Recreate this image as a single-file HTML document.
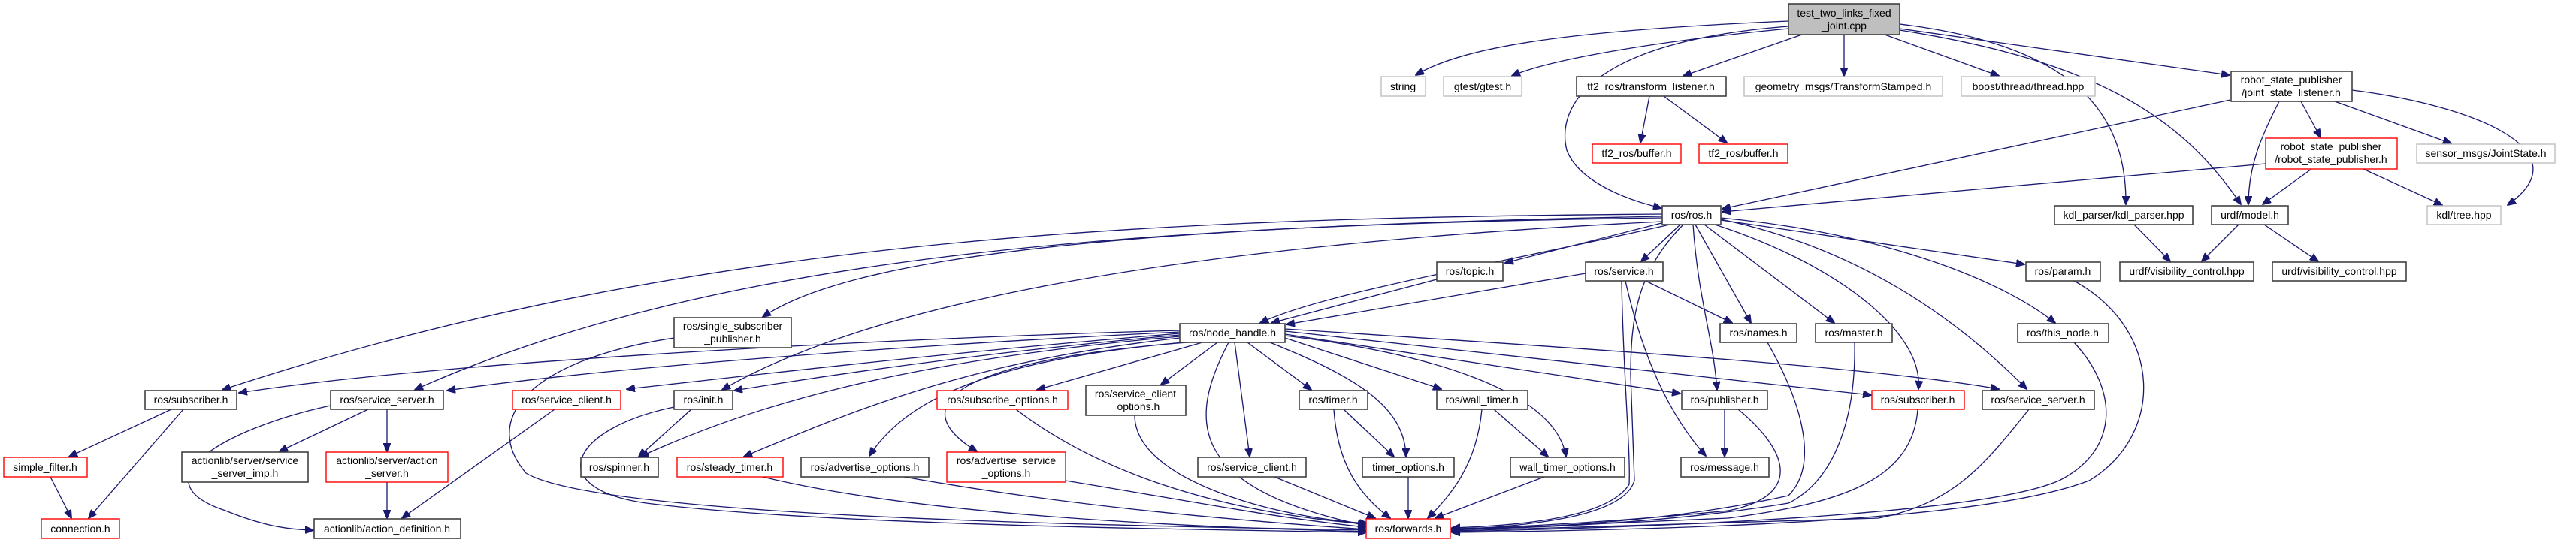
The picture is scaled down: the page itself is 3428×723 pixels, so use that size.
<!DOCTYPE html>
<html><head><meta charset="utf-8"><style>
html,body{margin:0;padding:0;background:#fff;}
svg{display:block;}
text{font-family:"Liberation Sans",sans-serif;font-size:14px;fill:#000;text-anchor:middle;}
.b{fill:#fff;stroke:#404040;stroke-width:1.6;}
.r{fill:#fff;stroke:#ff0000;stroke-width:1.4;}
.g{fill:#fff;stroke:#bfbfbf;stroke-width:1.4;}
.e{fill:none;stroke:#191970;stroke-width:1.3;}
</style></head><body>
<svg width="3428" height="723" viewBox="0 0 3428 723" xmlns="http://www.w3.org/2000/svg">
<defs><marker id="a" markerWidth="12" markerHeight="10" refX="11" refY="5" orient="auto" markerUnits="userSpaceOnUse"><path d="M0,0 L12,5 L0,10 z" fill="#191970" stroke="#191970"/></marker></defs>
<g class="e" marker-end="url(#a)">
<path d="M2380,28 C2100,40 1950,60 1884,100"/>
<path d="M2380,38 C2200,55 2060,80 2012,101"/>
<path d="M2398,46 L2240,101"/>
<path d="M2454,46 L2454,101"/>
<path d="M2508,46 L2660,101"/>
<path d="M2528,38 L2967,100"/>
<path d="M2380,35 C2120,55 2070,140 2085,200 C2100,240 2160,265 2211,277"/>
<path d="M2528,32 C2760,60 2830,150 2829,272"/>
<path d="M2528,40 C2780,80 2900,150 2982,272"/>
<path d="M2195,128 L2183,190"/>
<path d="M2214,128 L2298,190"/>
<path d="M2968,133 L2292,278"/>
<path d="M3033,135 C3010,180 2992,220 2992,272"/>
<path d="M3062,135 L3088,183"/>
<path d="M3107,135 L3262,191"/>
<path d="M3130,120 C3290,140 3440,200 3337,273"/>
<path d="M3015,218 L2292,282"/>
<path d="M3076,225 L3011,272"/>
<path d="M3145,225 L3250,273"/>
<path d="M2840,299 L2888,348"/>
<path d="M2979,299 L2930,348"/>
<path d="M3013,299 L3085,348"/>
<path d="M2236,299 L2184,348"/>
<path d="M2215,296 L2003,350"/>
<path d="M2290,293 L2694,352"/>
<path d="M2222,299 C2000,350 1760,390 1677,430"/>
<path d="M1912,372 L1692,430"/>
<path d="M2110,364 L1712,432"/>
<path d="M2256,299 L2330,430"/>
<path d="M2190,374 L2305,430"/>
<path d="M2268,299 L2441,430"/>
<path d="M2253,299 C2260,400 2280,450 2285,519"/>
<path d="M2240,299 C2180,360 2170,420 2170,500 L2175,640 C2160,690 2030,700 1932,706"/>
<path d="M2163,374 C2180,450 2210,540 2270,607"/>
<path d="M2158,374 C2160,500 2170,600 2168,645 C2140,690 2020,700 1932,703"/>
<path d="M2282,299 C2440,350 2560,440 2553,518"/>
<path d="M2290,292 C2470,330 2600,420 2697,518"/>
<path d="M2290,290 C2500,310 2660,370 2735,430"/>
<path d="M2212,285 C1500,290 900,320 296,519"/>
<path d="M2212,290 C1500,300 950,340 552,519"/>
<path d="M2212,288 C1600,300 1150,330 1015,422"/>
<path d="M2212,295 C1700,320 1200,380 961,519"/>
<path d="M897,450 C700,480 640,560 700,630 C800,690 1500,700 1818,706"/>
<path d="M1570,440 C1200,450 600,480 318,523"/>
<path d="M1570,442 C1200,460 800,490 595,520"/>
<path d="M1570,444 C1250,470 1000,500 834,518"/>
<path d="M1570,446 C1300,470 1100,500 977,520"/>
<path d="M1570,448 C1200,480 1000,540 852,608"/>
<path d="M1570,450 C1300,480 1150,540 990,608"/>
<path d="M1575,456 C1300,480 1200,540 1157,607"/>
<path d="M1580,456 C1270,480 1200,540 1300,601"/>
<path d="M1600,456 L1380,519"/>
<path d="M1620,456 L1545,512"/>
<path d="M1643,456 L1663,608"/>
<path d="M1635,456 C1580,560 1580,650 1818,700"/>
<path d="M1660,456 L1745,519"/>
<path d="M1690,456 C1800,500 1870,540 1871,608"/>
<path d="M1710,450 L1918,518"/>
<path d="M1710,447 C1900,470 2070,520 2084,608"/>
<path d="M1710,445 L2236,524"/>
<path d="M1710,441 L2490,526"/>
<path d="M1710,438 C2200,470 2500,490 2660,518"/>
<path d="M228,545 L92,608"/>
<path d="M244,545 L118,690"/>
<path d="M67,635 L95,690"/>
<path d="M490,545 L372,601"/>
<path d="M515,545 L515,601"/>
<path d="M440,540 C300,570 180,640 300,680 C350,700 380,705 417,706"/>
<path d="M515,642 L515,690"/>
<path d="M738,545 L535,690"/>
<path d="M920,545 L850,608"/>
<path d="M1015,635 C1200,680 1500,700 1818,708"/>
<path d="M1203,635 C1400,670 1600,690 1818,705"/>
<path d="M1418,640 C1600,670 1700,690 1818,702"/>
<path d="M1352,545 C1450,620 1600,680 1818,698"/>
<path d="M1510,553 C1510,640 1700,690 1820,697"/>
<path d="M1696,635 L1830,690"/>
<path d="M1788,545 L1855,608"/>
<path d="M1775,545 C1780,620 1810,660 1850,690"/>
<path d="M1972,545 C1965,620 1930,660 1900,690"/>
<path d="M1988,545 L2060,608"/>
<path d="M1874,635 L1874,690"/>
<path d="M2055,635 L1910,690"/>
<path d="M2295,545 L2295,608"/>
<path d="M2313,545 C2380,600 2400,660 2300,680 C2100,700 1950,704 1932,704"/>
<path d="M2352,456 C2400,540 2420,620 2380,660 C2200,700 2000,704 1932,704"/>
<path d="M2468,456 C2470,560 2440,640 2380,670 C2200,700 2000,704 1932,705"/>
<path d="M2552,545 C2545,640 2450,670 2300,690 L1932,706"/>
<path d="M2700,545 C2640,620 2600,670 2500,690 L1932,707"/>
<path d="M2760,456 C2820,520 2820,600 2740,640 C2650,680 2300,700 1932,708"/>
<path d="M2760,374 C2880,440 2880,580 2780,640 C2650,690 2300,705 1932,709"/>
<path d="M897,542 C760,570 720,650 860,670 C1100,700 1600,705 1818,709"/>
</g>
<!-- nodes -->
<rect x="2380" y="5" width="148" height="41" fill="#bfbfbf" stroke="#404040" stroke-width="1.6"/>
<text x="2454" y="22">test_two_links_fixed</text><text x="2454" y="39">_joint.cpp</text>
<rect class="g" x="1838" y="102" width="59" height="26"/><text x="1867" y="120">string</text>
<rect class="g" x="1921" y="102" width="104" height="26"/><text x="1973" y="120">gtest/gtest.h</text>
<rect class="b" x="2098" y="102" width="199" height="26"/><text x="2197" y="120">tf2_ros/transform_listener.h</text>
<rect class="g" x="2321" y="102" width="264" height="26"/><text x="2453" y="120">geometry_msgs/TransformStamped.h</text>
<rect class="g" x="2610" y="102" width="178" height="26"/><text x="2699" y="120">boost/thread/thread.hpp</text>
<rect class="b" x="2969" y="95" width="161" height="40"/><text x="3049" y="111">robot_state_publisher</text><text x="3049" y="128">/joint_state_listener.h</text>
<rect class="r" x="2119" y="192" width="118" height="25"/><text x="2178" y="209">tf2_ros/buffer.h</text>
<rect class="r" x="2261" y="192" width="118" height="25"/><text x="2320" y="209">tf2_ros/buffer.h</text>
<rect class="r" x="3015" y="184" width="175" height="41"/><text x="3102" y="200">robot_state_publisher</text><text x="3102" y="217">/robot_state_publisher.h</text>
<rect class="g" x="3216" y="192" width="184" height="25"/><text x="3308" y="209">sensor_msgs/JointState.h</text>
<rect class="b" x="2212" y="274" width="78" height="25"/><text x="2251" y="291">ros/ros.h</text>
<rect class="b" x="2734" y="274" width="184" height="25"/><text x="2826" y="291">kdl_parser/kdl_parser.hpp</text>
<rect class="b" x="2943" y="274" width="102" height="25"/><text x="2994" y="291">urdf/model.h</text>
<rect class="g" x="3230" y="274" width="98" height="25"/><text x="3279" y="291">kdl/tree.hpp</text>
<rect class="b" x="1912" y="349" width="88" height="25"/><text x="1956" y="366">ros/topic.h</text>
<rect class="b" x="2110" y="349" width="103" height="25"/><text x="2161" y="366">ros/service.h</text>
<rect class="b" x="2696" y="349" width="99" height="25"/><text x="2745" y="366">ros/param.h</text>
<rect class="b" x="2821" y="349" width="178" height="25"/><text x="2910" y="366">urdf/visibility_control.hpp</text>
<rect class="b" x="3024" y="349" width="178" height="25"/><text x="3113" y="366">urdf/visibility_control.hpp</text>
<rect class="b" x="897" y="423" width="156" height="40"/><text x="975" y="439">ros/single_subscriber</text><text x="975" y="456">_publisher.h</text>
<rect class="b" x="1570" y="431" width="140" height="25"/><text x="1640" y="448">ros/node_handle.h</text>
<rect class="b" x="2289" y="431" width="102" height="25"/><text x="2340" y="448">ros/names.h</text>
<rect class="b" x="2416" y="431" width="102" height="25"/><text x="2467" y="448">ros/master.h</text>
<rect class="b" x="2685" y="431" width="121" height="25"/><text x="2745" y="448">ros/this_node.h</text>
<rect class="b" x="193" y="520" width="122" height="25"/><text x="254" y="537">ros/subscriber.h</text>
<rect class="b" x="440" y="520" width="150" height="25"/><text x="515" y="537">ros/service_server.h</text>
<rect class="r" x="682" y="520" width="144" height="25"/><text x="754" y="537">ros/service_client.h</text>
<rect class="b" x="897" y="520" width="78" height="25"/><text x="936" y="537">ros/init.h</text>
<rect class="r" x="1247" y="520" width="174" height="25"/><text x="1334" y="537">ros/subscribe_options.h</text>
<rect class="b" x="1445" y="513" width="133" height="40"/><text x="1511" y="529">ros/service_client</text><text x="1511" y="546">_options.h</text>
<rect class="b" x="1729" y="520" width="91" height="25"/><text x="1774" y="537">ros/timer.h</text>
<rect class="b" x="1912" y="520" width="121" height="25"/><text x="1972" y="537">ros/wall_timer.h</text>
<rect class="b" x="2238" y="520" width="114" height="25"/><text x="2295" y="537">ros/publisher.h</text>
<rect class="r" x="2491" y="520" width="123" height="25"/><text x="2552" y="537">ros/subscriber.h</text>
<rect class="b" x="2638" y="520" width="149" height="25"/><text x="2712" y="537">ros/service_server.h</text>
<rect class="r" x="5" y="609" width="111" height="26"/><text x="60" y="627">simple_filter.h</text>
<rect class="b" x="242" y="602" width="168" height="40"/><text x="326" y="618">actionlib/server/service</text><text x="326" y="635">_server_imp.h</text>
<rect class="r" x="434" y="602" width="162" height="40"/><text x="515" y="618">actionlib/server/action</text><text x="515" y="635">_server.h</text>
<rect class="b" x="773" y="609" width="103" height="26"/><text x="824" y="627">ros/spinner.h</text>
<rect class="r" x="901" y="609" width="141" height="26"/><text x="971" y="627">ros/steady_timer.h</text>
<rect class="b" x="1066" y="609" width="170" height="26"/><text x="1151" y="627">ros/advertise_options.h</text>
<rect class="r" x="1260" y="602" width="158" height="40"/><text x="1339" y="618">ros/advertise_service</text><text x="1339" y="635">_options.h</text>
<rect class="b" x="1594" y="609" width="144" height="26"/><text x="1666" y="627">ros/service_client.h</text>
<rect class="b" x="1813" y="609" width="122" height="26"/><text x="1874" y="627">timer_options.h</text>
<rect class="b" x="2010" y="609" width="152" height="26"/><text x="2086" y="627">wall_timer_options.h</text>
<rect class="b" x="2237" y="609" width="117" height="26"/><text x="2295" y="627">ros/message.h</text>
<rect class="r" x="55" y="691" width="104" height="26"/><text x="107" y="709">connection.h</text>
<rect class="b" x="418" y="691" width="195" height="26"/><text x="515" y="709">actionlib/action_definition.h</text>
<rect class="r" x="1818" y="691" width="112" height="26"/><text x="1874" y="709">ros/forwards.h</text>
</svg>
</body></html>
